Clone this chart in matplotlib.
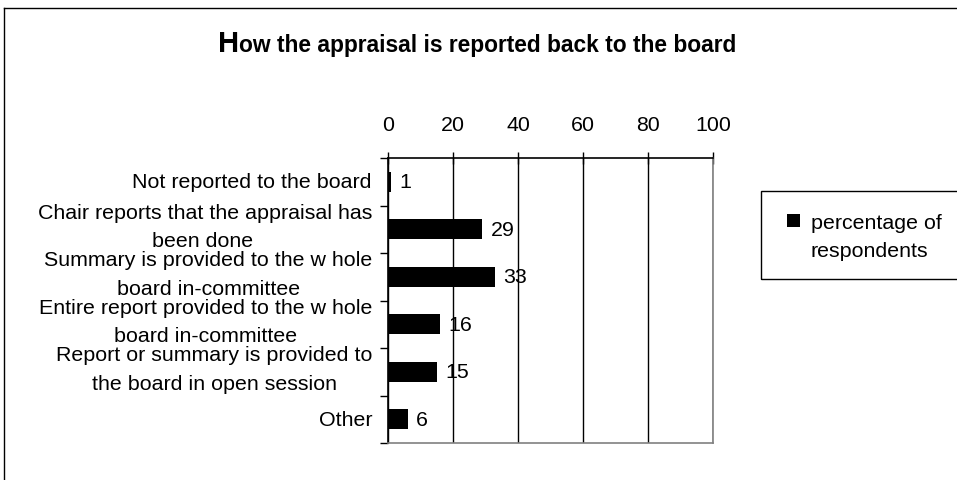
import matplotlib
matplotlib.use("Agg")
import matplotlib.pyplot as plt
from matplotlib.patches import Rectangle
from matplotlib.lines import Line2D
import numpy as np

plt.rcParams['font.family'] = ['Liberation Sans', 'DejaVu Sans']

title_first = "H"
title_rest = "ow the appraisal is reported back to the board"
categories = [
    ("Not reported to the board", ""),
    ("Chair reports that the appraisal has", "been done"),
    ("Summary is provided to the w hole", "board in-committee"),
    ("Entire report provided to the w hole", "board in-committee"),
    ("Report or summary is provided to", "the board in open session"),
    ("Other", ""),
]
values = [1, 29, 33, 16, 15, 6]
x_ticks = [0, 20, 40, 60, 80, 100]
legend_lines = ["percentage of", "respondents"]

# second-line centres (pixels), Excel wraps these oddly
line2_x = [0, 203, 209, 206, 214, 0]

W, H = 957, 481
FS = 15.4
fig = plt.figure(figsize=(W / 100, H / 100), dpi=100)

def fx(px):
    return px / W

def fy(py):
    return 1 - py / H

# outer chart border (right/bottom fall outside the picture)
fig.add_artist(Line2D([fx(4), fx(4)], [fy(9), -0.1], color='black', lw=1))
fig.add_artist(Line2D([fx(4), 1.1], [fy(9), fy(9)], color='black', lw=1))

ax = fig.add_axes([fx(388), fy(444), fx(713) - fx(388), fy(159) - fy(444)])
y = np.arange(len(values))
bars = ax.barh(y, values, height=0.43, color='black', zorder=3)
ax.set_xlim(0, 100)
ax.set_ylim(len(values) - 0.5, -0.5)

ax.xaxis.tick_top()
ax.set_xticks(x_ticks)
ax.set_xticklabels([str(t) for t in x_ticks], fontsize=FS)
ax.tick_params(axis='x', direction='inout', length=8, width=1, pad=13.5, colors='black')
ax.set_yticks(np.arange(len(values) + 1) - 0.5)
ax.set_yticklabels([])
ax.tick_params(axis='y', direction='out', length=6, width=1)

ax.grid(axis='x', color='black', lw=1, zorder=1)
ax.spines['top'].set_color('black')
ax.spines['left'].set_color('black')
ax.spines['right'].set_color('#808080')
ax.spines['bottom'].set_color('#808080')
for s in ax.spines.values():
    s.set_linewidth(1.2)

ax.bar_label(bars, labels=[str(v) for v in values], padding=6, fontsize=FS)

# category labels
for i, (l1, l2) in enumerate(categories):
    yc = fy(159) + (fy(444) - fy(159)) * (i + 0.5) / len(values)
    if l2:
        fig.text(fx(372), yc + 17 / H, l1, ha='right', va='center', fontsize=FS)
        fig.text(fx(line2_x[i]), yc - 11.5 / H, l2, ha='center', va='center', fontsize=FS)
    else:
        fig.text(fx(372), yc, l1, ha='right', va='center', fontsize=FS)

# title with enlarged first letter
t1 = fig.text(fx(218), fy(52), title_first, fontsize=21, fontweight='bold', ha='left', va='baseline')
fig.canvas.draw()
bb = t1.get_window_extent()
fig.text(bb.x1 / W, fy(52), title_rest, fontsize=16.4, fontweight='bold', ha='left', va='baseline')

# legend box
fig.add_artist(Rectangle((fx(761), fy(280)), 1.0, fy(192) - fy(280), transform=fig.transFigure,
                         facecolor='none', edgecolor='black', lw=1))
blank = Rectangle((0, 0), 1, 1, visible=False)
fig.legend(handles=[bars, blank], labels=legend_lines, loc='upper left', bbox_to_anchor=(fx(787), fy(214)),
           frameon=False, fontsize=FS, handlelength=0.62, handleheight=0.62, handletextpad=0.5,
           borderaxespad=0, borderpad=0, labelspacing=0.42)

fig.savefig("out.png", dpi=100)
